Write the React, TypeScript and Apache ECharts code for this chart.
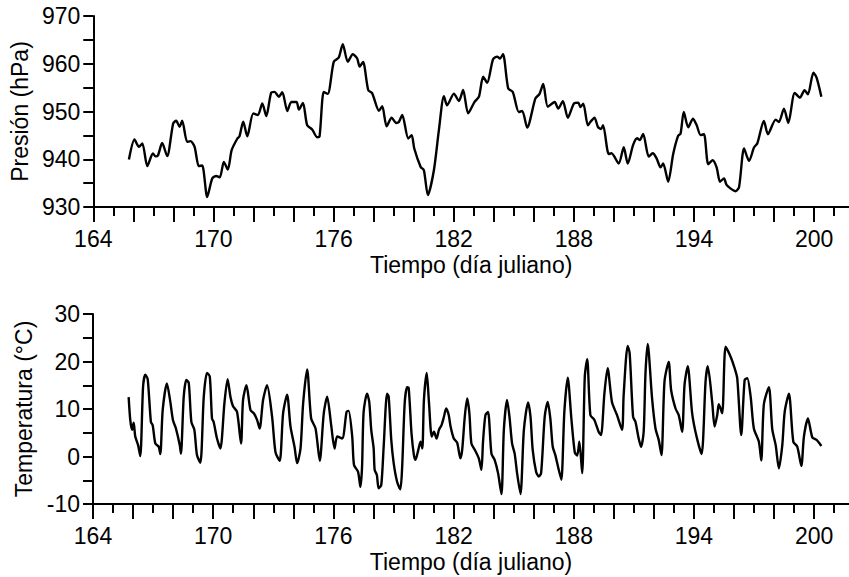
import React, { useEffect, useRef } from "react";
import * as echarts from "echarts";

const presDays = [
  165.78, 166.06, 166.28, 166.45, 166.7, 166.98, 167.11, 167.23, 167.44, 167.69,
  167.99, 168.14, 168.31, 168.44, 168.69, 168.86, 169.06, 169.27, 169.44, 169.69,
  169.94, 170.14, 170.32, 170.52, 170.72, 170.91, 171.19, 171.3, 171.49, 171.69,
  171.99, 172.22, 172.44, 172.64, 172.88, 173.05, 173.27, 173.44, 173.69, 173.89,
  174.15, 174.27, 174.47, 174.68, 174.93, 175.18, 175.3, 175.51, 175.71, 176.01,
  176.26, 176.46, 176.71, 176.96, 177.18, 177.3, 177.47, 177.73, 177.93, 178.27,
  178.43, 178.65, 178.9, 179.13, 179.26, 179.43, 179.73, 179.9, 180.03, 180.35,
  180.51, 180.71, 181.01, 181.26, 181.51, 181.67, 182.01, 182.26, 182.47, 182.72,
  183.04, 183.26, 183.47, 183.67, 183.96, 184.17, 184.31, 184.46, 184.72, 184.95,
  185.25, 185.42, 185.67, 186.08, 186.28, 186.47, 186.7, 187.04, 187.22, 187.45,
  187.7, 188.0, 188.22, 188.33, 188.47, 188.7, 188.83, 189.03, 189.2, 189.36,
  189.46, 189.74, 189.88, 190.24, 190.49, 190.69, 190.96, 191.16, 191.29, 191.46,
  191.74, 191.94, 192.13, 192.33, 192.46, 192.71, 192.96, 193.2, 193.33, 193.49,
  193.71, 193.95, 194.13, 194.33, 194.5, 194.71, 194.93, 195.13, 195.3, 195.5,
  195.63, 196.08, 196.25, 196.5, 196.75, 197.0, 197.16, 197.49, 197.69, 198.08,
  198.24, 198.49, 198.71, 199.03, 199.29, 199.52, 199.69, 199.96, 200.12, 200.36,
];
const presValues = [
  939.95, 944.15, 942.6, 943.3, 938.55, 941.2, 940.6, 940.8, 943.4, 940.65,
  947.5, 948.05, 946.8, 948.05, 943.65, 943.8, 942.6, 938.55, 938.7, 932.1,
  935.97, 936.5, 936.2, 939.45, 937.85, 941.9, 944.3, 944.8, 947.85, 944.8,
  949.6, 949.25, 951.7, 949.05, 953.9, 954.1, 953.1, 954.05, 950.1, 952.0,
  952.0, 950.4, 951.8, 947.15, 946.25, 944.6, 944.8, 954.1, 953.7, 960.4,
  961.3, 964.1, 960.4, 962.0, 961.1, 959.4, 960.4, 954.5, 953.8, 950.15,
  951.1, 946.9, 948.7, 947.6, 947.8, 949.3, 944.35, 945.05, 942.25, 938.4,
  937.7, 932.5, 937.7, 946.1, 953.2, 951.3, 953.75, 952.2, 954.5, 949.6,
  952.0, 953.1, 957.3, 956.0, 960.9, 961.5, 961.1, 962.0, 954.85, 954.1,
  949.9, 950.1, 946.65, 952.75, 953.65, 955.75, 951.0, 952.0, 950.6, 952.15,
  948.7, 951.65, 951.85, 950.95, 951.65, 947.1, 947.85, 948.7, 946.8, 946.3,
  947.15, 941.1, 941.25, 939.1, 942.5, 939.1, 943.0, 944.4, 944.0, 945.3,
  940.55, 941.25, 940.2, 938.3, 939.1, 935.3, 941.1, 944.85, 945.4, 949.9,
  946.7, 948.5, 947.15, 945.05, 945.25, 938.95, 939.8, 938.3, 935.3, 936.0,
  934.6, 933.3, 934.2, 942.25, 939.65, 942.5, 943.3, 948.0, 945.25, 948.3,
  947.8, 950.6, 947.6, 953.9, 952.9, 954.45, 953.6, 958.1, 957.1, 953.1,
];

const tempDays = [
  165.78, 165.86, 165.95, 166.03, 166.11, 166.25, 166.36, 166.5, 166.61, 166.73,
  166.89, 166.98, 167.11, 167.28, 167.36, 167.48, 167.69, 167.86, 167.99, 168.14,
  168.33, 168.39, 168.53, 168.66, 168.78, 168.91, 169.06, 169.19, 169.36, 169.53,
  169.69, 169.83, 169.94, 170.02, 170.19, 170.36, 170.56, 170.72, 170.86, 170.99,
  171.19, 171.39, 171.49, 171.66, 171.86, 172.03, 172.19, 172.32, 172.49, 172.69,
  172.94, 173.11, 173.32, 173.49, 173.69, 173.86, 174.06, 174.19, 174.36, 174.49,
  174.69, 174.89, 175.11, 175.32, 175.52, 175.69, 175.89, 176.06, 176.19, 176.44,
  176.66, 176.76, 176.94, 177.03, 177.23, 177.35, 177.43, 177.51, 177.68, 177.79,
  177.89, 178.01, 178.06, 178.17, 178.26, 178.39, 178.51, 178.68, 178.76, 178.89,
  179.01, 179.18, 179.34, 179.43, 179.56, 179.68, 179.76, 179.9, 180.02, 180.1,
  180.24, 180.35, 180.44, 180.52, 180.66, 180.77, 180.91, 181.02, 181.15, 181.27,
  181.4, 181.51, 181.63, 181.76, 181.85, 182.01, 182.18, 182.34, 182.43, 182.56,
  182.68, 182.79, 182.89, 183.06, 183.26, 183.39, 183.47, 183.59, 183.72, 183.89,
  184.05, 184.22, 184.39, 184.51, 184.67, 184.79, 184.92, 185.05, 185.17, 185.34,
  185.51, 185.72, 185.84, 185.95, 186.12, 186.25, 186.37, 186.55, 186.7, 186.83,
  186.95, 187.08, 187.25, 187.38, 187.53, 187.7, 187.88, 188.05, 188.17, 188.28,
  188.42, 188.55, 188.67, 188.83, 189.03, 189.24, 189.36, 189.53, 189.69, 189.91,
  190.16, 190.41, 190.49, 190.69, 190.79, 190.96, 191.08, 191.24, 191.36, 191.49,
  191.58, 191.69, 191.91, 192.08, 192.24, 192.38, 192.53, 192.74, 192.86, 193.08,
  193.24, 193.41, 193.53, 193.69, 193.91, 194.13, 194.38, 194.58, 194.69, 194.91,
  195.03, 195.16, 195.24, 195.41, 195.58, 195.83, 196.03, 196.16, 196.36, 196.53,
  196.66, 196.83, 196.99, 197.24, 197.36, 197.49, 197.74, 197.91, 198.08, 198.24,
  198.41, 198.53, 198.74, 198.96, 199.16, 199.36, 199.49, 199.69, 199.91, 200.12,
  200.36,
];
const tempValues = [
  12.5, 7.7, 5.6, 7.1, 4.2, 2.4, 0.1, 14.7, 17.2, 16.3,
  7.3, 6.6, 2.75, 2.05, 0.5, 9.8, 15.4, 11.5, 7.7, 5.9,
  2.4, 0.6, 12.6, 16.1, 15.5, 7.3, 5.6, 0.3, -1.3, 12.6,
  17.6, 16.8, 8.0, 7.3, 3.8, 1.7, 11.2, 16.3, 12.6, 10.6,
  9.4, 2.75, 11.9, 15.0, 9.8, 9.1, 7.7, 5.9, 11.9, 15.0,
  8.4, 0.9, -0.9, 9.1, 13.0, 6.3, 2.05, -1.4, 1.7, 11.2,
  18.35, 8.0, 5.9, -0.9, 9.1, 12.6, 6.6, 1.7, 4.2, 3.8,
  9.4, 9.6, 4.2, -1.8, -3.2, -6.4, -2.3, 9.4, 13.2, 11.5,
  5.6, 1.7, -2.8, -3.9, -6.7, -6.0, 2.05, 13.2, 12.6, 3.5,
  -1.4, -5.3, -6.9, -2.5, 11.2, 14.6, 14.4, 4.9, 0.3, -0.7,
  1.4, 3.1, 1.7, 11.9, 17.6, 11.5, 4.2, 5.2, 3.8, 5.6,
  6.6, 8.2, 10.1, 8.7, 6.3, 3.8, 2.9, -0.4, 1.4, 8.4,
  12.2, 9.1, 2.75, 1.4, -0.4, -2.8, 3.1, 8.7, 9.4, 0.6,
  -0.7, -3.5, -7.9, 5.6, 11.9, 8.4, 2.75, 0.6, -3.5, -7.9,
  5.6, 11.4, 8.4, 1.4, -3.2, -4.2, -3.5, 8.4, 11.5, 8.0,
  2.05, 0.3, -2.8, -4.9, 9.4, 16.6, 8.0, 0.9, 0.2, 3.1,
  -3.5, 16.8, 20.5, 8.7, 7.7, 5.2, 4.5, 13.3, 18.6, 11.4,
  8.7, 5.6, 12.9, 23.3, 21.75, 8.4, 7.3, 3.8, 2.05, 5.2,
  17.5, 23.7, 12.2, 5.9, 3.5, 0.3, 15.8, 19.9, 14.0, 10.1,
  8.7, 5.2, 15.1, 19.0, 9.1, 4.2, 0.5, 15.8, 19.0, 11.5,
  6.3, 8.7, 11.0, 9.1, 23.1, 21.0, 18.6, 16.5, 4.5, 16.1,
  16.5, 12.6, 5.9, 3.1, -0.8, 11.0, 14.6, 5.7, 2.4, -2.5,
  2.4, 9.4, 13.2, 3.1, 2.05, -2.0, 4.2, 8.0, 4.0, 3.5,
  2.2,
];

const xLabelDays = [164, 170, 176, 182, 188, 194, 200];
const majorTickDays = [164, 166, 168, 170, 172, 174, 176, 178, 180, 182, 184, 186, 188, 190, 192, 194, 196, 198, 200];
const minorTickDays = [165, 167, 169, 171, 173, 175, 177, 179, 181, 183, 185, 187, 189, 191, 193, 195, 197, 199, 201];

const X_MIN = 164;
const X_MAX = 201.74;
const FONT = "'Liberation Sans', Arial, Helvetica, sans-serif";

export default function App() {
  const ref = useRef<HTMLDivElement>(null);
  useEffect(() => {
    if (!ref.current) return;
    const chart = echarts.init(ref.current, null, { renderer: "svg" });
    const textStyle = { color: "#000", fontSize: 23, fontFamily: FONT };
    const mkLabelX = (grid: number) => ({
      type: "value",
      gridIndex: grid,
      position: "bottom",
      min: X_MIN,
      max: X_MAX,
      name: "Tiempo (día juliano)",
      nameLocation: "middle",
      nameGap: 46,
      nameTextStyle: textStyle,
      axisLine: { show: true, onZero: false, lineStyle: { color: "#000", width: 2 } },
      axisTick: { show: false },
      axisLabel: { show: true, customValues: xLabelDays, margin: 20, ...textStyle },
      splitLine: { show: false },
    });
    const mkTickX = (grid: number, values: number[], len: number) => ({
      type: "value",
      gridIndex: grid,
      position: "bottom",
      min: X_MIN,
      max: X_MAX,
      axisLine: { show: false, onZero: false },
      axisTick: { show: true, customValues: values, length: len, lineStyle: { color: "#000", width: 2 } },
      axisLabel: { show: false },
      splitLine: { show: false },
    });
    const mkY = (grid: number, min: number, max: number, name: string, gap: number) => ({
      type: "value",
      gridIndex: grid,
      position: "left",
      min,
      max,
      interval: 5,
      name,
      nameLocation: "middle",
      nameGap: gap,
      nameTextStyle: textStyle,
      axisLine: { show: true, onZero: false, lineStyle: { color: "#000", width: 2 } },
      axisTick: { show: true, length: 10, lineStyle: { color: "#000", width: 2 } },
      axisLabel: {
        show: true,
        margin: 13,
        ...textStyle,
        formatter: (v: number) => (Math.round(v) % 10 === 0 ? String(Math.round(v)) : ""),
      },
      splitLine: { show: false },
    });
    const pres = presDays.map((d, i) => [d, presValues[i]]);
    const temp = tempDays.map((d, i) => [d, tempValues[i]]);
    chart.setOption({
      animation: false,
      backgroundColor: "#fff",
      grid: [
        { left: 93, top: 16, width: 756, height: 191, containLabel: false },
        { left: 93, top: 314, width: 756, height: 190, containLabel: false },
      ],
      xAxis: [
        mkLabelX(0),
        mkTickX(0, majorTickDays, 15),
        mkTickX(0, minorTickDays, 9),
        mkLabelX(1),
        mkTickX(1, majorTickDays, 15),
        mkTickX(1, minorTickDays, 9),
      ],
      yAxis: [
        mkY(0, 930, 970, "Presión (hPa)", 54),
        mkY(1, -10, 30, "Temperatura (°C)", 51),
      ],
      series: [
        {
          type: "line",
          xAxisIndex: 0,
          yAxisIndex: 0,
          data: pres,
          showSymbol: false,
          symbol: "none",
          smooth: 0.25,
          lineStyle: { color: "#000", width: 2.4 },
        },
        {
          type: "line",
          xAxisIndex: 3,
          yAxisIndex: 1,
          data: temp,
          showSymbol: false,
          symbol: "none",
          smooth: 0.25,
          lineStyle: { color: "#000", width: 2.4 },
        },
      ],
    });
    return () => chart.dispose();
  }, []);
  return (
    <div
      ref={ref}
      style={{ position: "absolute", left: 0, top: 0, width: 849, height: 577, background: "#fff" }}
    />
  );
}
